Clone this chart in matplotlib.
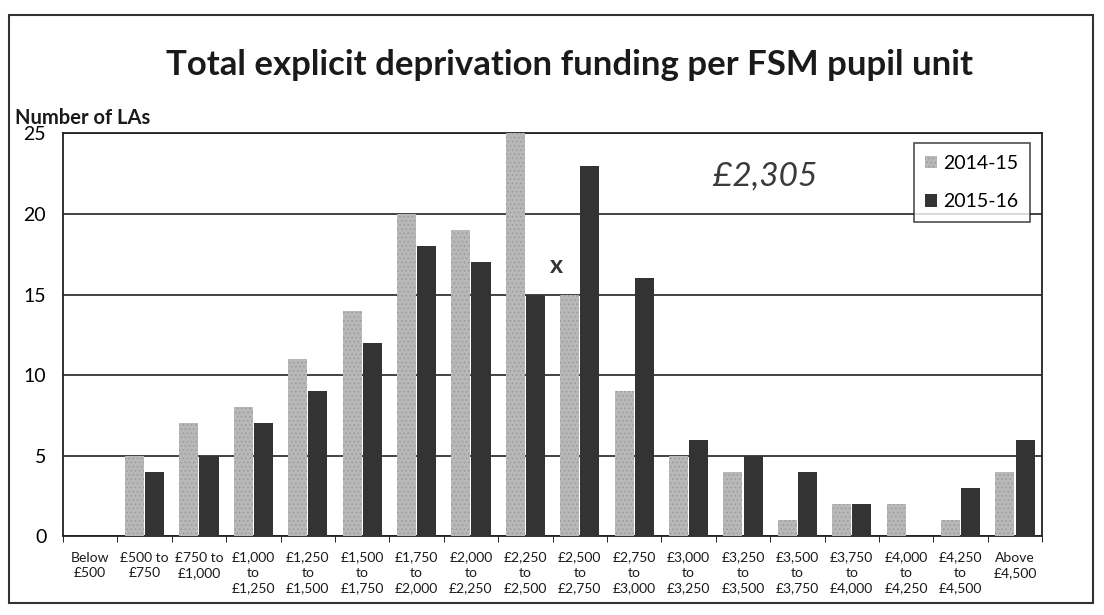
import numpy as np
import matplotlib.pyplot as plt
from matplotlib.patches import Rectangle

# funding bands (x axis) and number of LAs in each band
bands = ["Below\n£500", "£500 to\n£750", "£750 to\n£1,000", "£1,000\nto\n£1,250",
         "£1,250\nto\n£1,500", "£1,500\nto\n£1,750", "£1,750\nto\n£2,000",
         "£2,000\nto\n£2,250", "£2,250\nto\n£2,500", "£2,500\nto\n£2,750",
         "£2,750\nto\n£3,000", "£3,000\nto\n£3,250", "£3,250\nto\n£3,500",
         "£3,500\nto\n£3,750", "£3,750\nto\n£4,000", "£4,000\nto\n£4,250",
         "£4,250\nto\n£4,500", "Above\n£4,500"]
las_2014 = [0, 5, 7, 8, 11, 14, 20, 19, 25, 15, 9, 5, 4, 1, 2, 2, 1, 4]
las_2015 = [0, 4, 5, 7, 9, 12, 18, 17, 15, 23, 16, 6, 5, 4, 2, 0, 3, 6]
yticks = [0, 5, 10, 15, 20, 25]

plt.rcParams['font.family'] = ['Lato', 'DejaVu Sans']
plt.rcParams['hatch.linewidth'] = 0.6

fig = plt.figure(figsize=(11.04, 6.15), dpi=100)
ax = fig.add_axes([0.057, 0.128, 0.887, 0.655])

x = np.arange(len(bands))
w = 0.35
ax.bar(x - w/2 - 0.01, las_2014, w, color='#b8b8b8', edgecolor='#9a9a9a',
       hatch='....', linewidth=0, label='2014-15', zorder=3)
ax.bar(x + w/2 + 0.01, las_2015, w, color='#333333', linewidth=0,
       label='2015-16', zorder=3)

ax.set_xlim(-0.5, len(bands) - 0.5)
ax.set_ylim(0, 25)
ax.set_yticks(yticks)
ax.set_yticklabels([str(v) for v in yticks], fontsize=14)
ax.set_xticks(x)
ax.set_xticklabels(bands, fontsize=10, linespacing=1.35, color='#1a1a1a')
ax.set_xticks(np.arange(len(bands) + 1) - 0.5, minor=True)
ax.tick_params(axis='x', which='major', length=0, pad=11)
ax.tick_params(axis='x', which='minor', length=4, direction='out')
ax.tick_params(axis='y', length=0, pad=12)
ax.yaxis.grid(True, color='#222222', linewidth=1.2, zorder=0)
for s in ax.spines.values():
    s.set_color('#222222')
    s.set_linewidth(1.3)

leg = ax.legend(loc='upper right', fontsize=14, frameon=True, fancybox=False,
                edgecolor='#222222', handlelength=0.6, handleheight=0.6,
                handletextpad=0.3, labelspacing=1.1, borderpad=0.6,
                bbox_to_anchor=(0.997, 1.0))
leg.get_frame().set_linewidth(1.2)

fig.text(0.516, 0.895, "Total explicit deprivation funding per FSM pupil unit",
         ha='center', va='center', fontsize=25, fontweight='bold', color='#1a1a1a')
fig.text(0.014, 0.808, "Number of LAs", ha='left', va='center', fontsize=14.5,
         fontweight='bold', color='#1a1a1a')

# handwritten notes on the scan
ax.text(12.4, 22.3, "£2,305", fontsize=24, style='italic', color='#3a3a3a',
        ha='center', va='center', zorder=5)
ax.text(8.57, 16.8, "x", fontsize=18, fontweight='bold', color='#333333',
        ha='center', va='center', zorder=5)

# border of the scanned page
fig.patches.append(Rectangle((0.008, 0.02), 0.982, 0.955, transform=fig.transFigure,
                             fill=False, edgecolor='#333333', linewidth=1.5))

fig.savefig('out.png', dpi=100)
